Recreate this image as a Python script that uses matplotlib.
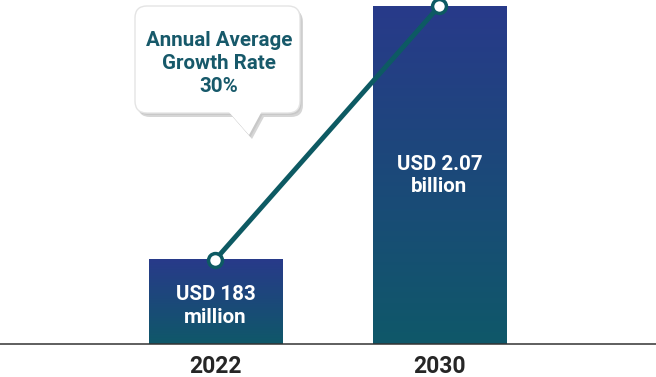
import numpy as np
import matplotlib.pyplot as plt
from matplotlib.patches import FancyBboxPatch, Polygon
from matplotlib.colors import LinearSegmentedColormap

# chart data (bar heights are the drawn, stylised heights relative to the 2030 bar)
years = ["2022", "2030"]
bar_heights = [0.25, 1.0]
bar_labels = ["USD 183\nmillion", "USD 2.07\nbillion"]
label_y = [0.112, 0.4985]
bubble_text = "Annual Average\nGrowth Rate\n30%"

plt.rcParams['font.family'] = ['Roboto', 'DejaVu Sans']

fig = plt.figure(figsize=(6.56, 3.77), dpi=100)
ax = fig.add_axes([0, 0, 1, 1])
ax.axis('off')

x = np.arange(len(years))
width = 0.594
grad = LinearSegmentedColormap.from_list("g", ["#0f5869", "#283a8a"])
grad_img = np.linspace(0, 1, 256).reshape(-1, 1)

for xi, h, lab, ly in zip(x, bar_heights, bar_labels, label_y):
    ax.imshow(grad_img, cmap=grad, origin='lower', aspect='auto',
              extent=[xi - width / 2, xi + width / 2, 0, h], zorder=1)
    ax.text(xi, ly, lab, color='white', ha='center', va='center',
            fontsize=14.8, fontweight='bold', linespacing=1.25)
    ax.text(xi, -0.068, years[xi], color='#262626', ha='center', va='center',
            fontsize=16.5, fontweight='bold')

ax.set_xlim(-0.962, 1.967)
ax.set_ylim(-0.0976, 1.0178)
ax.axhline(0, color='#333333', lw=1.1, zorder=2)

ax.plot(x, bar_heights, color='#0d5a63', lw=3.5, zorder=3,
        marker='o', markersize=10, markerfacecolor='white',
        markeredgecolor='#0d5a63', markeredgewidth=2.5, clip_on=False)

# speech bubble in pixel coordinates
ov = fig.add_axes([0, 0, 1, 1])
ov.set_xlim(0, 656)
ov.set_ylim(377, 0)
ov.axis('off')
ov.patch.set_alpha(0)

for dx, dy, fc, ec, z in [(3, 4, '#d6d6d6', 'none', 1), (1.5, 2, '#c8c8c8', 'none', 1.2),
                          (0, 0, 'white', '#e4e4e4', 2)]:
    ov.add_patch(FancyBboxPatch((135 + dx, 6 + dy), 165, 107,
                                boxstyle="round,pad=0,rounding_size=12",
                                fc=fc, ec=ec, lw=1, zorder=z))
    ov.add_patch(Polygon([(228 + dx, 111 + dy), (262 + dx, 111 + dy), (249 + dx, 135 + dy)],
                         closed=True, fc=fc, ec='none', zorder=z + 0.1))

ov.text(219, 63.5, bubble_text, color='#17596a', ha='center', va='center',
        fontsize=14.8, fontweight='bold', linespacing=1.28, zorder=5)

fig.savefig("out.png", dpi=100)
